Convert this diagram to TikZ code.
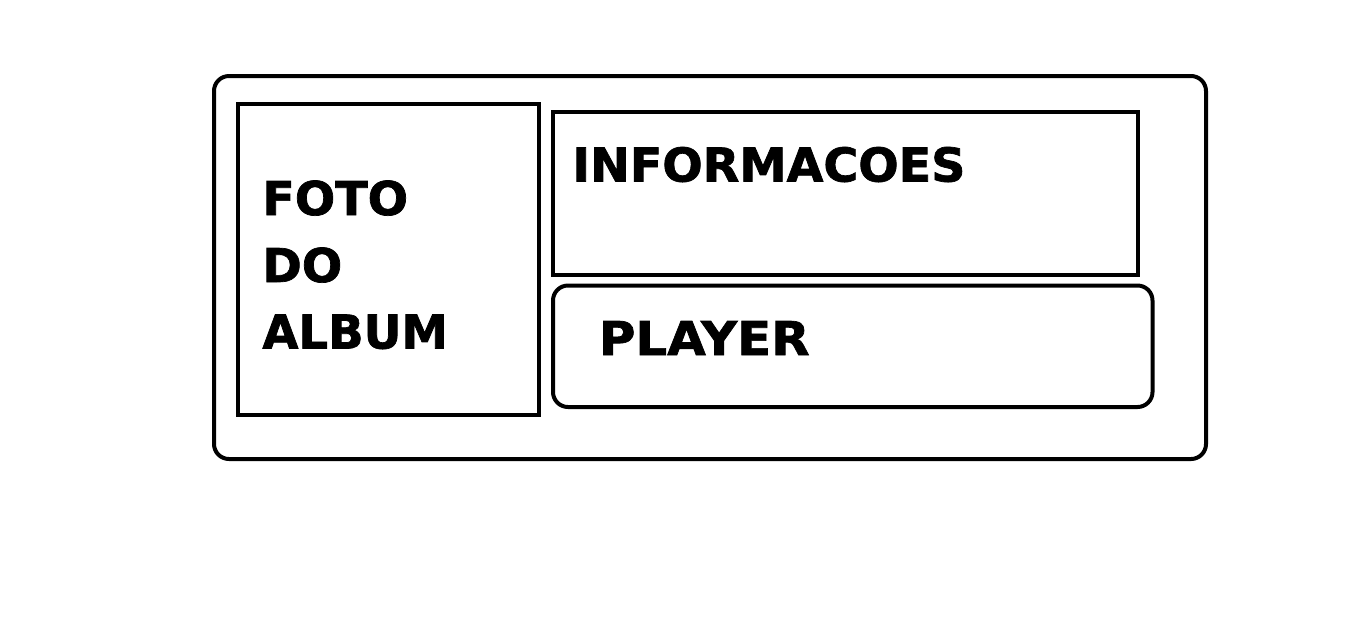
\documentclass[tikz,border=0pt]{standalone}
\usepackage{fontspec}
\setmainfont{DejaVu Sans}[BoldFeatures={FakeBold=1.5}]
\usepackage{tikz}
\usetikzlibrary{positioning}

\begin{document}
\begin{tikzpicture}[x=0.5pt,y=-0.5pt,
   frame/.style={draw,line width=2pt,inner sep=0pt},
   roundframe/.style={frame,rounded corners=7.5pt},
   label text/.style={anchor=base west,inner sep=0pt,font=\fontsize{23.3}{28}\selectfont\bfseries}]
   \useasboundingbox (0,0) rectangle (1360,623);

   \draw (710,267.5) node[roundframe,minimum width=496pt,minimum height=191.5pt] (tela) {};
   \draw (388.5,259.25) node[frame,minimum width=150.5pt,minimum height=155.25pt] (foto) {};
   \draw (845.25,193.2) node[frame,minimum width=292.75pt,minimum height=81.5pt] (info) {};
   \draw (852.75,346.25) node[roundframe,minimum width=299.75pt,minimum height=60.75pt] (player) {};

   \draw (262,215) node[label text] (foto1) {\scalebox{1.02}[1]{FOTO}};
   \draw (262,282) node[label text] (foto2) {\scalebox{1.02}[1]{DO}};
   \draw (262,348.5) node[label text] (foto3) {ALBUM};
   \draw (572,181.5) node[label text] (infotxt) {\scalebox{1.02}[1]{INFORMACOES}};
   \draw (598.5,355) node[label text] (playertxt) {\scalebox{1.07}[1]{PLAYER}};

\end{tikzpicture}
\end{document}
